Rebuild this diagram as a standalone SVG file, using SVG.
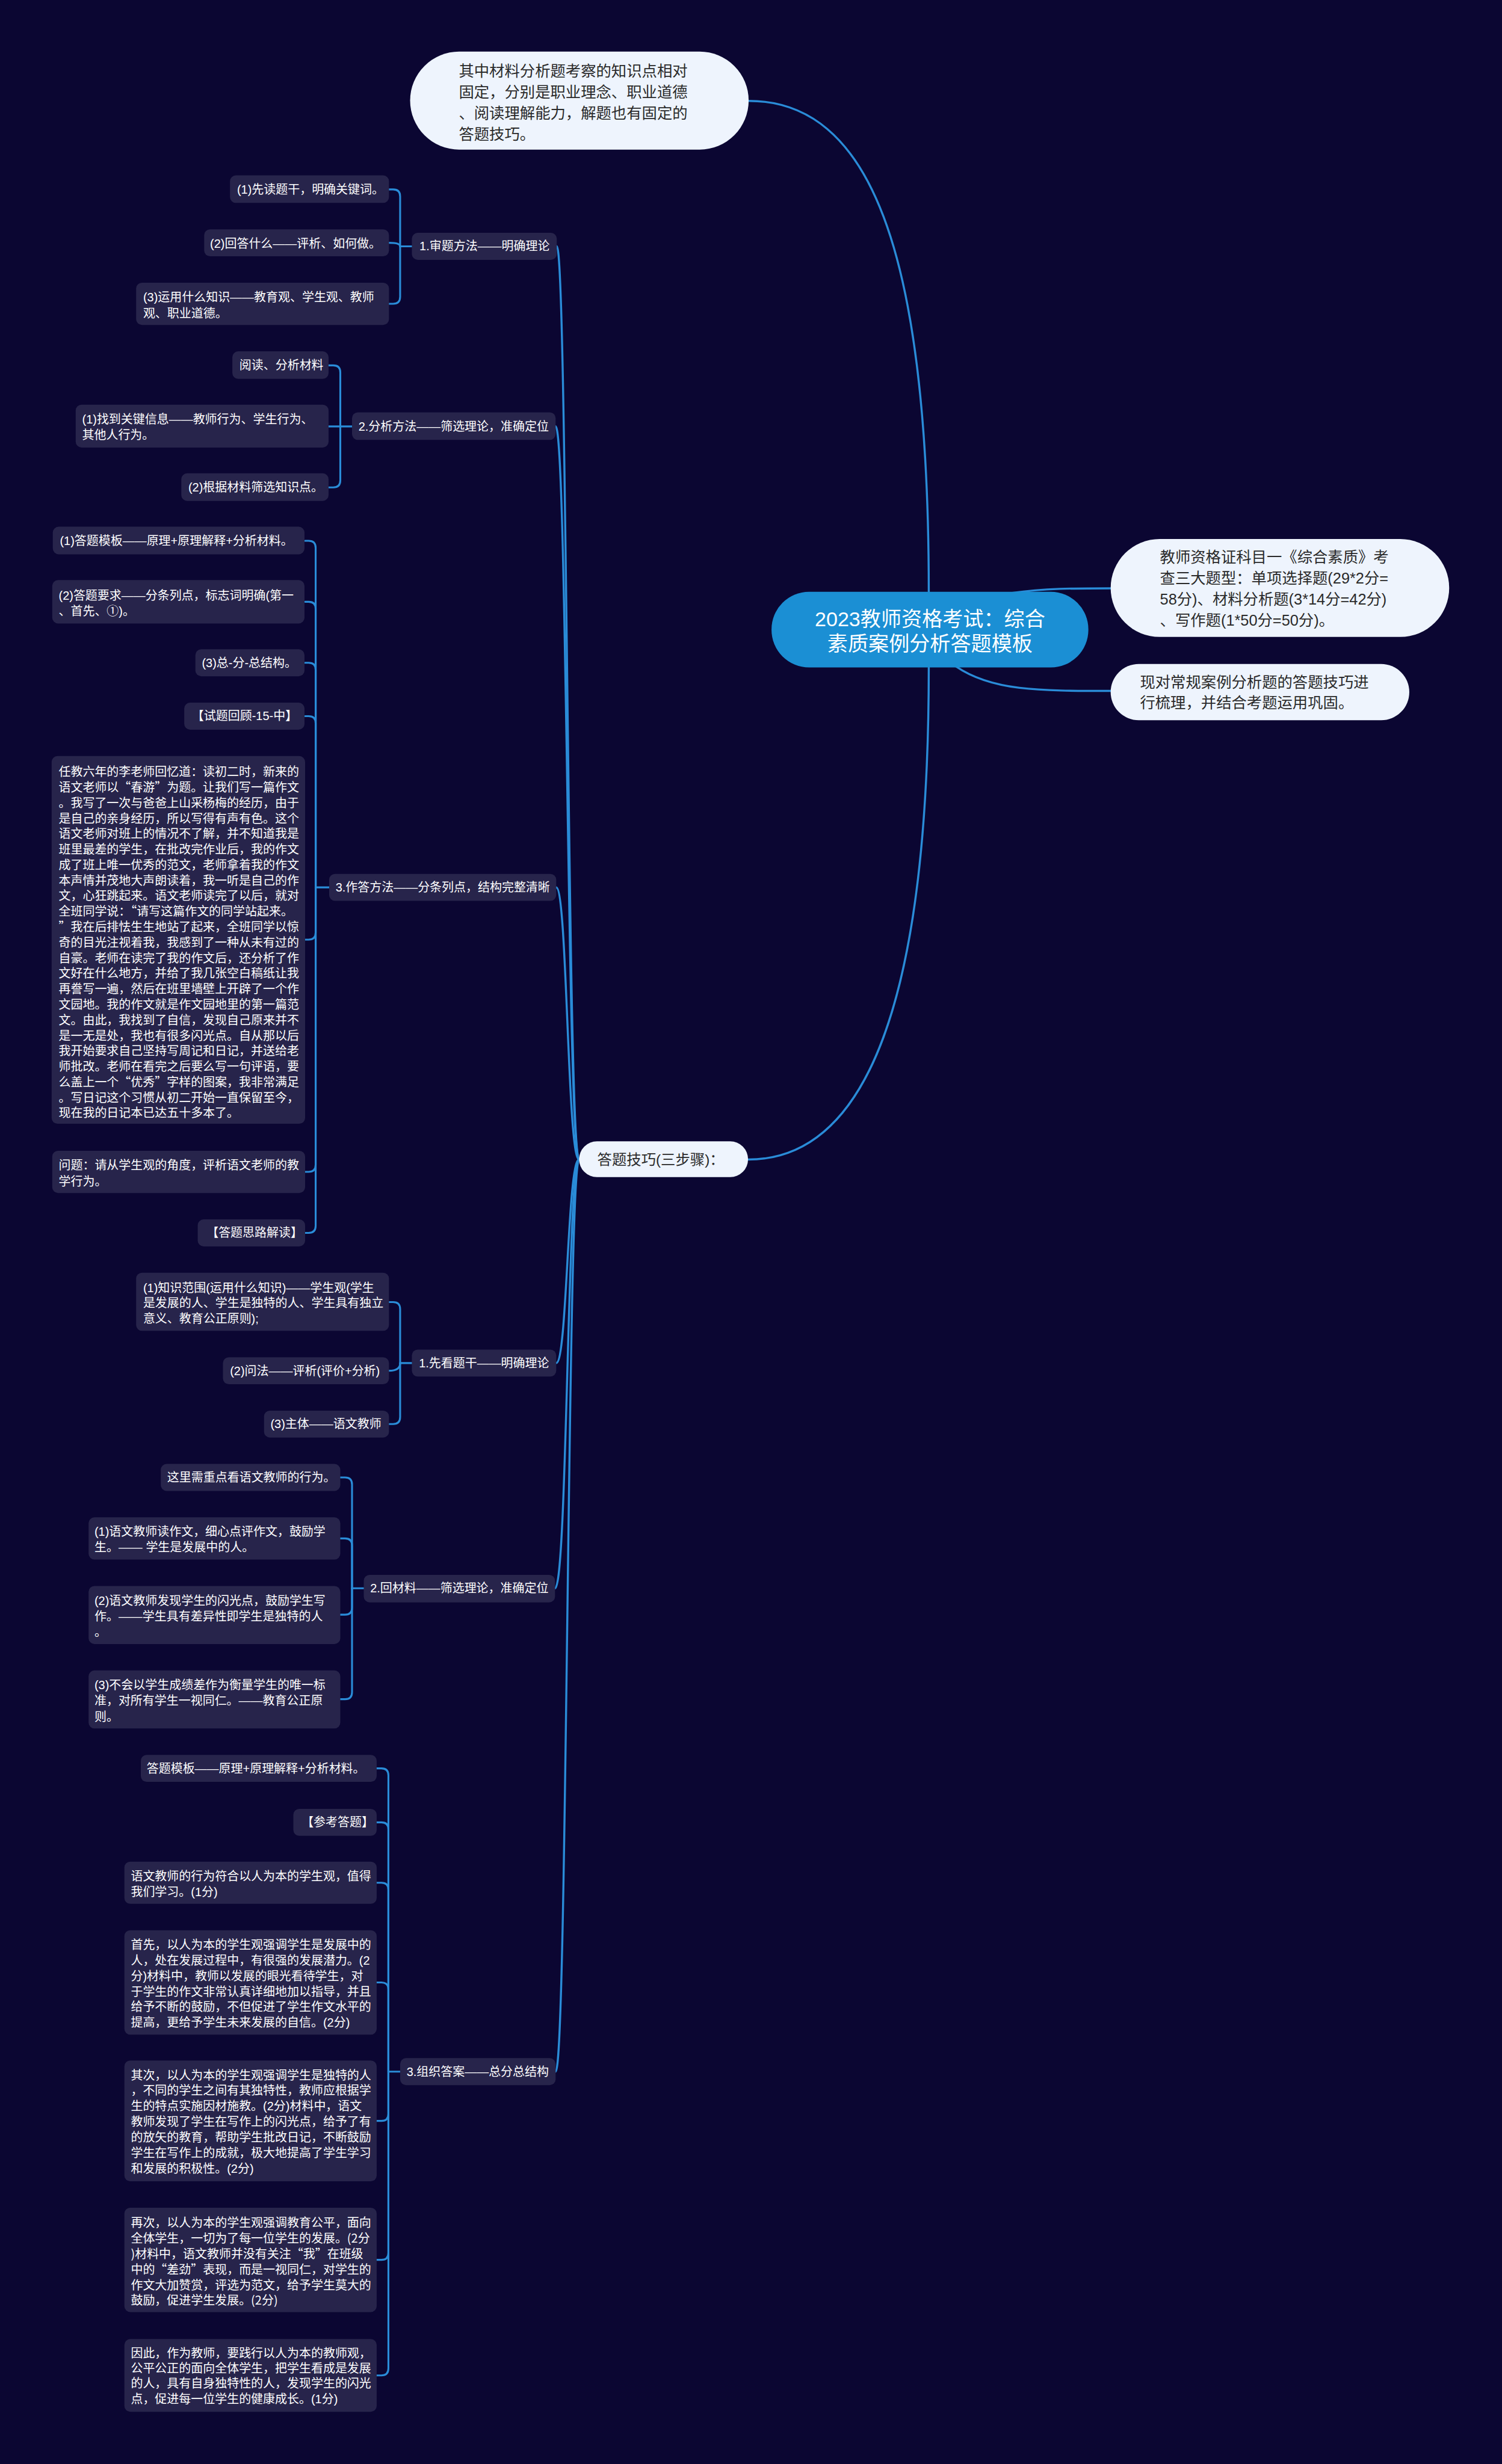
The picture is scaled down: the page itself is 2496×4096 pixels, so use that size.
<svg xmlns="http://www.w3.org/2000/svg" width="2496" height="4096" viewBox="0 0 2496 4096">
<style>
.box{fill:#27244b}
.light{fill:#eef4fd}
.t{font-family:"Liberation Sans","Noto Sans CJK SC",sans-serif;dominant-baseline:central}
.cj{font-family:"Noto Sans CJK SC","Liberation Sans",sans-serif}
.lt{fill:#ffffff;font-size:20.5px}
.dt{fill:#2a2a2a;font-size:26px}
.ct{fill:#ffffff;font-size:35px;text-anchor:middle}
.ln{fill:none;stroke:#2a8cd8;stroke-width:3.5;stroke-linecap:round}
.br{fill:none;stroke:#2a8cd8;stroke-width:3.2;stroke-linecap:round}
</style>
<rect x="0" y="0" width="2496" height="4096" fill="#0b0632"/>
<g transform="scale(0.975)">
<g id="connectors">
<path class="ln" d="M1276,172 C1480,172 1583,420 1583,1009"/>
<path class="ln" d="M1583,1138 C1583,1700 1480,1977 1275,1977"/>
<path class="ln" d="M1725,1011 C1780,1003 1830,1003 1893,1003"/>
<path class="ln" d="M1629,1136 C1690,1178 1770,1178 1893,1178"/>
<path class="ln" d="M987,1977 C967,1977 967,420 949,420"/>
<path class="ln" d="M987,1977 C967,1977 967,727 947,727"/>
<path class="ln" d="M987,1977 C967,1977 967,1513 948,1513"/>
<path class="ln" d="M987,1977 C967,1977 967,2324 948,2324"/>
<path class="ln" d="M987,1977 C967,1977 967,2708 946,2708"/>
<path class="ln" d="M987,1977 C967,1977 967,3532 947,3532"/>
<path class="br" d="M663,323 H670 Q682,323 682,335 V420"/>
<path class="br" d="M663,414 Q682,414 682,420"/>
<path class="br" d="M663,518 H670 Q682,518 682,506 V420"/>
<path class="br" d="M682,420 H702"/>
<path class="br" d="M560,623 H568 Q580,623 580,635 V727"/>
<path class="br" d="M560,727 H600"/>
<path class="br" d="M560,831 H568 Q580,831 580,819 V727"/>
<path class="br" d="M520,922 H526 Q538,922 538,934 V1513"/>
<path class="br" d="M520,1026 H526 Q538,1026 538,1038 V1513"/>
<path class="br" d="M520,1130 H526 Q538,1130 538,1142 V1513"/>
<path class="br" d="M520,1221 H526 Q538,1221 538,1233 V1513"/>
<path class="br" d="M520,1602 H526 Q538,1602 538,1590 V1513"/>
<path class="br" d="M520,1998 H526 Q538,1998 538,1986 V1513"/>
<path class="br" d="M520,2102 H526 Q538,2102 538,2090 V1513"/>
<path class="br" d="M538,1513 H561"/>
<path class="br" d="M663,2220 H670 Q682,2220 682,2232 V2324"/>
<path class="br" d="M663,2337 Q682,2337 682,2324"/>
<path class="br" d="M663,2428 H670 Q682,2428 682,2416 V2324"/>
<path class="br" d="M682,2324 H702"/>
<path class="br" d="M580,2519 H588 Q600,2519 600,2531 V2708"/>
<path class="br" d="M580,2623 H588 Q600,2623 600,2635 V2708"/>
<path class="br" d="M580,2753 H588 Q600,2753 600,2741 V2708"/>
<path class="br" d="M580,2897 H588 Q600,2897 600,2885 V2708"/>
<path class="br" d="M600,2708 H620"/>
<path class="br" d="M642,3015 H650 Q662,3015 662,3027 V3532"/>
<path class="br" d="M642,3107 H650 Q662,3107 662,3119 V3532"/>
<path class="br" d="M642,3210 H650 Q662,3210 662,3222 V3532"/>
<path class="br" d="M642,3380 H650 Q662,3380 662,3392 V3532"/>
<path class="br" d="M642,3616 H650 Q662,3616 662,3604 V3532"/>
<path class="br" d="M642,3853 H650 Q662,3853 662,3841 V3532"/>
<path class="br" d="M642,4050 H650 Q662,4050 662,4038 V3532"/>
<path class="br" d="M662,3532 H682"/>
</g>

<g id="n-root">
<rect x="1315" y="1009" width="540" height="129" rx="64" fill="#1b8fd4"/>
<text class="t ct"><tspan x="1585" y="1055">2023教师资格考试：综合</tspan><tspan x="1585" y="1097">素质案例分析答题模板</tspan></text>
</g>

<g id="n-intro">
<rect class="light" x="699" y="88" width="577" height="167" rx="83.5"/>
<text class="t dt"><tspan x="782" y="121">其中材料分析题考察的知识点相对</tspan><tspan x="782" y="157">固定，分别是职业理念、职业道德</tspan><tspan x="782" y="193">、阅读理解能力，解题也有固定的</tspan><tspan x="782" y="229">答题技巧。</tspan></text>
</g>

<g id="n-exam">
<rect class="light" x="1893" y="919" width="577" height="167" rx="83.5"/>
<text class="t dt"><tspan x="1977" y="950">教师资格证科目一《综合素质》考</tspan><tspan x="1977" y="986">查三大题型：单项选择题(29*2分=</tspan><tspan x="1977" y="1022">58分)、材料分析题(3*14分=42分)</tspan><tspan x="1977" y="1057">、写作题(1*50分=50分)。</tspan></text>
</g>

<g id="n-now">
<rect class="light" x="1893" y="1132" width="509" height="96" rx="48"/>
<text class="t dt"><tspan x="1943" y="1163">现对常规案例分析题的答题技巧进</tspan><tspan x="1943" y="1198">行梳理，并结合考题运用巩固。</tspan></text>
</g>

<g id="n-skill">
<rect class="light" x="987" y="1946" width="288" height="61" rx="30.5"/>
<text class="t dt" x="1018" y="1977" style="font-size:25px">答题技巧(三步骤)：</text>
</g>

<g id="n-a">
<rect class="box" x="702" y="397" width="247" height="46" rx="10"/>
<text class="t lt" x="715" y="420">1.审题方法——明确理论</text>
</g>
<g id="n-a1">
<rect class="box" x="392" y="299" width="271" height="47" rx="10"/>
<text class="t lt" x="404" y="323">(1)先读题干，明确关键词。</text>
</g>
<g id="n-a2">
<rect class="box" x="348" y="391" width="315" height="46" rx="10"/>
<text class="t lt" x="358" y="415">(2)回答什么——评析、如何做。</text>
</g>
<g id="n-a3">
<rect class="box" x="232" y="482" width="431" height="72" rx="10"/>
<text class="t lt"><tspan x="244" y="507">(3)运用什么知识——教育观、学生观、教师</tspan><tspan x="244" y="534">观、职业道德。</tspan></text>
</g>

<g id="n-b">
<rect class="box" x="600" y="703" width="347" height="47" rx="10"/>
<text class="t lt" x="611" y="727">2.分析方法——筛选理论，准确定位</text>
</g>
<g id="n-b1">
<rect class="box" x="396" y="599" width="164" height="47" rx="10"/>
<text class="t lt" x="408" y="623">阅读、分析材料</text>
</g>
<g id="n-b2">
<rect class="box" x="129" y="690" width="431" height="73" rx="10"/>
<text class="t lt"><tspan x="140" y="715">(1)找到关键信息——教师行为、学生行为、</tspan><tspan x="140" y="742">其他人行为。</tspan></text>
</g>
<g id="n-b3">
<rect class="box" x="309" y="807" width="251" height="47" rx="10"/>
<text class="t lt" x="321" y="831">(2)根据材料筛选知识点。</text>
</g>

<g id="n-c">
<rect class="box" x="561" y="1490" width="387" height="46" rx="10"/>
<text class="t lt" x="572" y="1513">3.作答方法——分条列点，结构完整清晰</text>
</g>
<g id="n-c1">
<rect class="box" x="90" y="898" width="429" height="47" rx="10"/>
<text class="t lt" x="102" y="922">(1)答题模板——原理+原理解释+分析材料。</text>
</g>
<g id="n-c2">
<rect class="box" x="89" y="989" width="430" height="74" rx="10"/>
<text class="t lt"><tspan x="100" y="1015">(2)答题要求——分条列点，标志词明确(第一</tspan><tspan x="100" y="1042">、首先、①)。</tspan></text>
</g>
<g id="n-c3">
<rect class="box" x="333" y="1107" width="186" height="46" rx="10"/>
<text class="t lt" x="344" y="1130">(3)总-分-总结构。</text>
</g>
<g id="n-c4">
<rect class="box" x="314" y="1198" width="205" height="46" rx="10"/>
<text class="t lt" x="327" y="1221">【试题回顾-15-中】</text>
</g>
<g id="n-c5">
<rect class="box" x="88" y="1289" width="432" height="627" rx="10"/>
<text class="t cj lt"><tspan x="100" y="1314">任教六年的李老师回忆道：读初二时，新来的</tspan><tspan x="100" y="1340.5">语文老师以“春游”为题。让我们写一篇作文</tspan><tspan x="100" y="1367">。我写了一次与爸爸上山采杨梅的经历，由于</tspan><tspan x="100" y="1393.4">是自己的亲身经历，所以写得有声有色。这个</tspan><tspan x="100" y="1419.8">语文老师对班上的情况不了解，并不知道我是</tspan><tspan x="100" y="1446.3">班里最差的学生，在批改完作业后，我的作文</tspan><tspan x="100" y="1472.7">成了班上唯一优秀的范文，老师拿着我的作文</tspan><tspan x="100" y="1499.2">本声情并茂地大声朗读着，我一听是自己的作</tspan><tspan x="100" y="1525.6">文，心狂跳起来。语文老师读完了以后，就对</tspan><tspan x="100" y="1552.1">全班同学说：“请写这篇作文的同学站起来。</tspan><tspan x="100" y="1578.5">”我在后排怯生生地站了起来，全班同学以惊</tspan><tspan x="100" y="1605">奇的目光注视着我，我感到了一种从未有过的</tspan><tspan x="100" y="1631.4">自豪。老师在读完了我的作文后，还分析了作</tspan><tspan x="100" y="1657.9">文好在什么地方，并给了我几张空白稿纸让我</tspan><tspan x="100" y="1684.3">再誊写一遍，然后在班里墙壁上开辟了一个作</tspan><tspan x="100" y="1710.8">文园地。我的作文就是作文园地里的第一篇范</tspan><tspan x="100" y="1737.2">文。由此，我找到了自信，发现自己原来并不</tspan><tspan x="100" y="1763.7">是一无是处，我也有很多闪光点。自从那以后</tspan><tspan x="100" y="1790.1">我开始要求自己坚持写周记和日记，并送给老</tspan><tspan x="100" y="1816.6">师批改。老师在看完之后要么写一句评语，要</tspan><tspan x="100" y="1843">么盖上一个“优秀”字样的图案，我非常满足</tspan><tspan x="100" y="1869.5">。写日记这个习惯从初二开始一直保留至今，</tspan><tspan x="100" y="1895.9">现在我的日记本已达五十多本了。</tspan></text>
</g>
<g id="n-c6">
<rect class="box" x="89" y="1962" width="431" height="72" rx="10"/>
<text class="t lt"><tspan x="100" y="1987">问题：请从学生观的角度，评析语文老师的教</tspan><tspan x="100" y="2014">学行为。</tspan></text>
</g>
<g id="n-c7">
<rect class="box" x="337" y="2079" width="183" height="46" rx="10"/>
<text class="t lt" x="352" y="2102">【答题思路解读】</text>
</g>

<g id="n-d">
<rect class="box" x="702" y="2301" width="246" height="46" rx="10"/>
<text class="t lt" x="714" y="2324">1.先看题干——明确理论</text>
</g>
<g id="n-d1">
<rect class="box" x="232" y="2170" width="431" height="99" rx="10"/>
<text class="t lt"><tspan x="244" y="2196">(1)知识范围(运用什么知识)——学生观(学生</tspan><tspan x="244" y="2222">是发展的人、学生是独特的人、学生具有独立</tspan><tspan x="244" y="2248">意义、教育公正原则);</tspan></text>
</g>
<g id="n-d2">
<rect class="box" x="380" y="2314" width="283" height="46" rx="10"/>
<text class="t lt" x="392" y="2337">(2)问法——评析(评价+分析)</text>
</g>
<g id="n-d3">
<rect class="box" x="450" y="2405" width="213" height="46" rx="10"/>
<text class="t lt" x="461" y="2428">(3)主体——语文教师</text>
</g>

<g id="n-e">
<rect class="box" x="620" y="2685" width="326" height="47" rx="10"/>
<text class="t lt" x="631" y="2708">2.回材料——筛选理论，准确定位</text>
</g>
<g id="n-e1">
<rect class="box" x="274" y="2496" width="306" height="46" rx="10"/>
<text class="t lt" x="285" y="2519">这里需重点看语文教师的行为。</text>
</g>
<g id="n-e2">
<rect class="box" x="151" y="2587" width="429" height="72" rx="10"/>
<text class="t lt"><tspan x="161" y="2611">(1)语文教师读作文，细心点评作文，鼓励学</tspan><tspan x="161" y="2638">生。—— 学生是发展中的人。</tspan></text>
</g>
<g id="n-e3">
<rect class="box" x="151" y="2704" width="429" height="99" rx="10"/>
<text class="t lt"><tspan x="161" y="2729">(2)语文教师发现学生的闪光点，鼓励学生写</tspan><tspan x="161" y="2756">作。——学生具有差异性即学生是独特的人</tspan><tspan x="161" y="2783">。</tspan></text>
</g>
<g id="n-e4">
<rect class="box" x="151" y="2848" width="429" height="99" rx="10"/>
<text class="t lt"><tspan x="161" y="2873">(3)不会以学生成绩差作为衡量学生的唯一标</tspan><tspan x="161" y="2900">准，对所有学生一视同仁。——教育公正原</tspan><tspan x="161" y="2927">则。</tspan></text>
</g>

<g id="n-f">
<rect class="box" x="682" y="3509" width="265" height="46" rx="10"/>
<text class="t lt" x="693" y="3532">3.组织答案——总分总结构</text>
</g>
<g id="n-f1">
<rect class="box" x="240" y="2992" width="402" height="46" rx="10"/>
<text class="t lt" x="250" y="3015">答题模板——原理+原理解释+分析材料。</text>
</g>
<g id="n-f2">
<rect class="box" x="500" y="3084" width="142" height="46" rx="10"/>
<text class="t lt" x="514" y="3107">【参考答题】</text>
</g>
<g id="n-f3">
<rect class="box" x="212" y="3174" width="430" height="72" rx="10"/>
<text class="t lt"><tspan x="223" y="3199">语文教师的行为符合以人为本的学生观，值得</tspan><tspan x="223" y="3226">我们学习。(1分)</tspan></text>
</g>
<g id="n-f4">
<rect class="box" x="212" y="3291" width="430" height="178" rx="10"/>
<text class="t lt"><tspan x="223" y="3316">首先，以人为本的学生观强调学生是发展中的</tspan><tspan x="223" y="3342.5">人，处在发展过程中，有很强的发展潜力。(2</tspan><tspan x="223" y="3369">分)材料中，教师以发展的眼光看待学生，对</tspan><tspan x="223" y="3395.5">于学生的作文非常认真详细地加以指导，并且</tspan><tspan x="223" y="3422">给予不断的鼓励，不但促进了学生作文水平的</tspan><tspan x="223" y="3448.5">提高，更给予学生未来发展的自信。(2分)</tspan></text>
</g>
<g id="n-f5">
<rect class="box" x="212" y="3513" width="430" height="206" rx="10"/>
<text class="t lt"><tspan x="223" y="3538">其次，以人为本的学生观强调学生是独特的人</tspan><tspan x="223" y="3564.5">，不同的学生之间有其独特性，教师应根据学</tspan><tspan x="223" y="3591">生的特点实施因材施教。(2分)材料中，语文</tspan><tspan x="223" y="3617.5">教师发现了学生在写作上的闪光点，给予了有</tspan><tspan x="223" y="3644">的放矢的教育，帮助学生批改日记，不断鼓励</tspan><tspan x="223" y="3670.5">学生在写作上的成就，极大地提高了学生学习</tspan><tspan x="223" y="3697">和发展的积极性。(2分)</tspan></text>
</g>
<g id="n-f6">
<rect class="box" x="212" y="3764" width="430" height="178" rx="10"/>
<text class="t cj lt"><tspan x="223" y="3788">再次，以人为本的学生观强调教育公平，面向</tspan><tspan x="223" y="3814.5">全体学生，一切为了每一位学生的发展。(2分</tspan><tspan x="223" y="3841">)材料中，语文教师并没有关注“我”在班级</tspan><tspan x="223" y="3867.5">中的“差劲”表现，而是一视同仁，对学生的</tspan><tspan x="223" y="3894">作文大加赞赏，评选为范文，给予学生莫大的</tspan><tspan x="223" y="3920.5">鼓励，促进学生发展。(2分)</tspan></text>
</g>
<g id="n-f7">
<rect class="box" x="212" y="3988" width="430" height="124" rx="10"/>
<text class="t lt"><tspan x="223" y="4012">因此，作为教师，要践行以人为本的教师观，</tspan><tspan x="223" y="4038">公平公正的面向全体学生，把学生看成是发展</tspan><tspan x="223" y="4064">的人，具有自身独特性的人，发现学生的闪光</tspan><tspan x="223" y="4090">点，促进每一位学生的健康成长。(1分)</tspan></text>
</g>
</g>
</svg>
